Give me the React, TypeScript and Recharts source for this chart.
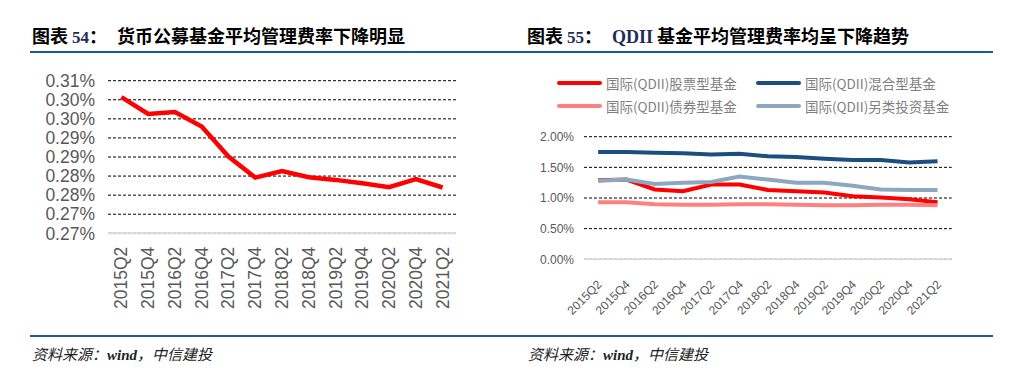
import React from 'react';
import { CartesianGrid, Legend, Line, LineChart, XAxis, YAxis } from 'recharts';

// shared x categories
const quarters = [
  '2015Q2', '2015Q4', '2016Q2', '2016Q4', '2017Q2', '2017Q4', '2018Q2',
  '2018Q4', '2019Q2', '2019Q4', '2020Q2', '2020Q4', '2021Q2',
];

// chart 54: money market fund average fee (%)
const moneyFundFee = [0.3057, 0.3013, 0.3018, 0.298, 0.2901, 0.2846, 0.2863, 0.2847, 0.284, 0.2831, 0.2821, 0.2842, 0.282];
const leftTickValues = [0.27, 0.275, 0.28, 0.285, 0.29, 0.295, 0.3, 0.305, 0.31];
const leftTickLabels = ['0.27%', '0.27%', '0.28%', '0.28%', '0.29%', '0.29%', '0.30%', '0.30%', '0.31%'];

// chart 55: QDII fund average fee (%)
const qdiiStock = [1.29, 1.3, 1.14, 1.11, 1.22, 1.22, 1.13, 1.11, 1.09, 1.03, 1.01, 0.98, 0.93];
const qdiiMixed = [1.75, 1.75, 1.74, 1.73, 1.71, 1.72, 1.68, 1.67, 1.64, 1.62, 1.62, 1.58, 1.6];
const qdiiBond = [0.93, 0.93, 0.9, 0.89, 0.89, 0.9, 0.9, 0.89, 0.88, 0.88, 0.89, 0.89, 0.88];
const qdiiAlt = [1.28, 1.3, 1.23, 1.25, 1.26, 1.35, 1.3, 1.25, 1.25, 1.2, 1.14, 1.13, 1.13];
const rightTickValues = [0, 0.5, 1, 1.5, 2];

const seriesNames = ['国际(QDII)股票型基金', '国际(QDII)混合型基金', '国际(QDII)债券型基金', '国际(QDII)另类投资基金'];
const seriesColors = ['#FF0000', '#1B4F7E', '#FF8080', '#8CA8C0'];

const moneyData = quarters.map((q, i) => ({ q, fee: moneyFundFee[i] }));
const qdiiData = quarters.map((q, i) => ({
  q,
  s0: qdiiStock[i],
  s1: qdiiMixed[i],
  s2: qdiiBond[i],
  s3: qdiiAlt[i],
}));

const SANS = "'Liberation Sans', Arial, sans-serif";
const CJK = "'Noto Sans CJK SC', 'Noto Sans', sans-serif";
const SERIF = "'Liberation Serif', 'Times New Roman', serif";
const RULE = '#1F5A8C';

const leftLabel = (v: number) => {
  const i = leftTickValues.findIndex((t) => Math.abs(t - v) < 1e-9);
  return i >= 0 ? leftTickLabels[i] : '';
};

const LeftTick = ({ x, y, payload }: any) => (
  <text
    transform={`translate(${x + 6},${y + 13.4}) rotate(-90)`}
    textAnchor="end"
    fill="#595959"
    fontSize={17.5}
    fontFamily={SANS}
  >
    {payload.value}
  </text>
);

const RightTick = ({ x, y, payload }: any) => (
  <text
    transform={`translate(${x + 4.3},${y + 26}) rotate(-45)`}
    textAnchor="end"
    fill="#595959"
    fontSize={12}
    fontFamily={SANS}
  >
    {payload.value}
  </text>
);

const renderLegend = ({ payload }: any) => {
  const items = [...(payload || [])].sort(
    (a: any, b: any) => seriesNames.indexOf(a.value) - seriesNames.indexOf(b.value),
  );
  return (
    <div style={{ display: 'grid', gridTemplateColumns: '199px 199px', gridAutoRows: '22.7px', alignItems: 'center' }}>
      {items.map((it: any) => (
        <div key={it.value} style={{ display: 'flex', alignItems: 'center' }}>
          <svg width={46} height={6} style={{ display: 'block' }}>
            <line x1={2} y1={3} x2={43} y2={3} stroke={it.color} strokeWidth={4} strokeLinecap="round" />
          </svg>
          <span style={{ marginLeft: 3, fontSize: 13.5, color: '#7F7F7F', fontFamily: CJK, whiteSpace: 'nowrap', lineHeight: '16px' }}>
            {it.value}
          </span>
        </div>
      ))}
    </div>
  );
};

const Title = ({ left, num }: { left: number; num: string }) => (
  <div style={{ position: 'absolute', left, top: 26, fontFamily: CJK, fontWeight: 700, fontSize: 18, lineHeight: '18px', color: '#000', whiteSpace: 'nowrap' }}>
    图表 <span style={{ fontFamily: SERIF, fontSize: 17, color: '#1F2D5A' }}>{num}</span>：
  </div>
);

export default function App() {
  return (
    <div style={{ position: 'absolute', left: 0, top: 0, width: 1020, height: 386, background: '#fff', overflow: 'hidden' }}>
      <Title left={32} num="54" />
      <div style={{ position: 'absolute', left: 117, top: 26, fontFamily: CJK, fontWeight: 700, fontSize: 18, lineHeight: '18px', color: '#000', whiteSpace: 'nowrap' }}>
        货币公募基金平均管理费率下降明显
      </div>
      <Title left={527} num="55" />
      <div style={{ position: 'absolute', left: 612, top: 26, fontFamily: CJK, fontWeight: 700, fontSize: 18, lineHeight: '18px', color: '#000', whiteSpace: 'nowrap' }}>
        <span style={{ fontFamily: SERIF, fontSize: 18, color: '#1F2D5A' }}>QDII</span> 基金平均管理费率均呈下降趋势
      </div>
      <div style={{ position: 'absolute', left: 30, top: 50.5, width: 963, height: 2.5, background: RULE }} />

      <div style={{ position: 'absolute', left: 0, top: 0 }}>
        <LineChart width={470} height={320} data={moneyData} margin={{ top: 80.7, right: 14, left: 0, bottom: 0 }}>
          <CartesianGrid vertical={false} stroke="#000" strokeDasharray="3 2" />
          <XAxis
            dataKey="q"
            scale="band"
            interval={0}
            height={86.7}
            tickSize={0}
            tickMargin={0}
            tickLine={false}
            axisLine={{ stroke: '#D9D9D9', strokeWidth: 2 }}
            tick={<LeftTick />}
          />
          <YAxis
            width={108}
            domain={[0.27, 0.31]}
            ticks={leftTickValues}
            interval={0}
            tickFormatter={leftLabel}
            axisLine={false}
            tickLine={false}
            tickSize={0}
            tickMargin={13}
            tick={{ fill: '#595959', fontSize: 17.5, fontFamily: SANS }}
          />
          <Line type="linear" dataKey="fee" stroke="#FF0000" strokeWidth={4.5} dot={false} isAnimationActive={false} />
        </LineChart>
      </div>

      <div style={{ position: 'absolute', left: 480, top: 0 }}>
        <LineChart width={490} height={330} data={qdiiData} margin={{ top: 136.7, right: 18.3, left: 0, bottom: 0 }}>
          <CartesianGrid vertical={false} stroke="#000" strokeDasharray="3 2" />
          <XAxis
            dataKey="q"
            scale="band"
            interval={0}
            height={70.7}
            tickSize={0}
            tickMargin={0}
            tickLine={false}
            axisLine={{ stroke: '#D9D9D9', strokeWidth: 1.5 }}
            tick={<RightTick />}
          />
          <YAxis
            width={104}
            domain={[0, 2]}
            ticks={rightTickValues}
            interval={0}
            tickFormatter={(v: number) => v.toFixed(2) + '%'}
            axisLine={false}
            tickLine={false}
            tickSize={0}
            tickMargin={10}
            tick={{ fill: '#595959', fontSize: 12, fontFamily: SANS }}
          />
          <Legend
            layout="vertical"
            align="center"
            verticalAlign="middle"
            wrapperStyle={{ position: 'absolute', top: 72, left: 77, width: 420 }}
            content={renderLegend}
          />
          {seriesNames.map((name, i) => (
            <Line
              key={name}
              type="linear"
              dataKey={`s${i}`}
              name={name}
              stroke={seriesColors[i]}
              strokeWidth={4}
              dot={false}
              isAnimationActive={false}
            />
          ))}
        </LineChart>
      </div>

      <div style={{ position: 'absolute', left: 30, top: 335, width: 963, height: 1.5, background: RULE }} />
      <div style={{ position: 'absolute', left: 32, top: 345, fontFamily: CJK, fontStyle: 'italic', fontSize: 15, lineHeight: '18px', color: '#222', whiteSpace: 'nowrap' }}>
        资料来源：<span style={{ fontFamily: SERIF, fontWeight: 700 }}>wind</span>，中信建投
      </div>
      <div style={{ position: 'absolute', left: 528, top: 345, fontFamily: CJK, fontStyle: 'italic', fontSize: 15, lineHeight: '18px', color: '#222', whiteSpace: 'nowrap' }}>
        资料来源：<span style={{ fontFamily: SERIF, fontWeight: 700 }}>wind</span>，中信建投
      </div>
    </div>
  );
}
